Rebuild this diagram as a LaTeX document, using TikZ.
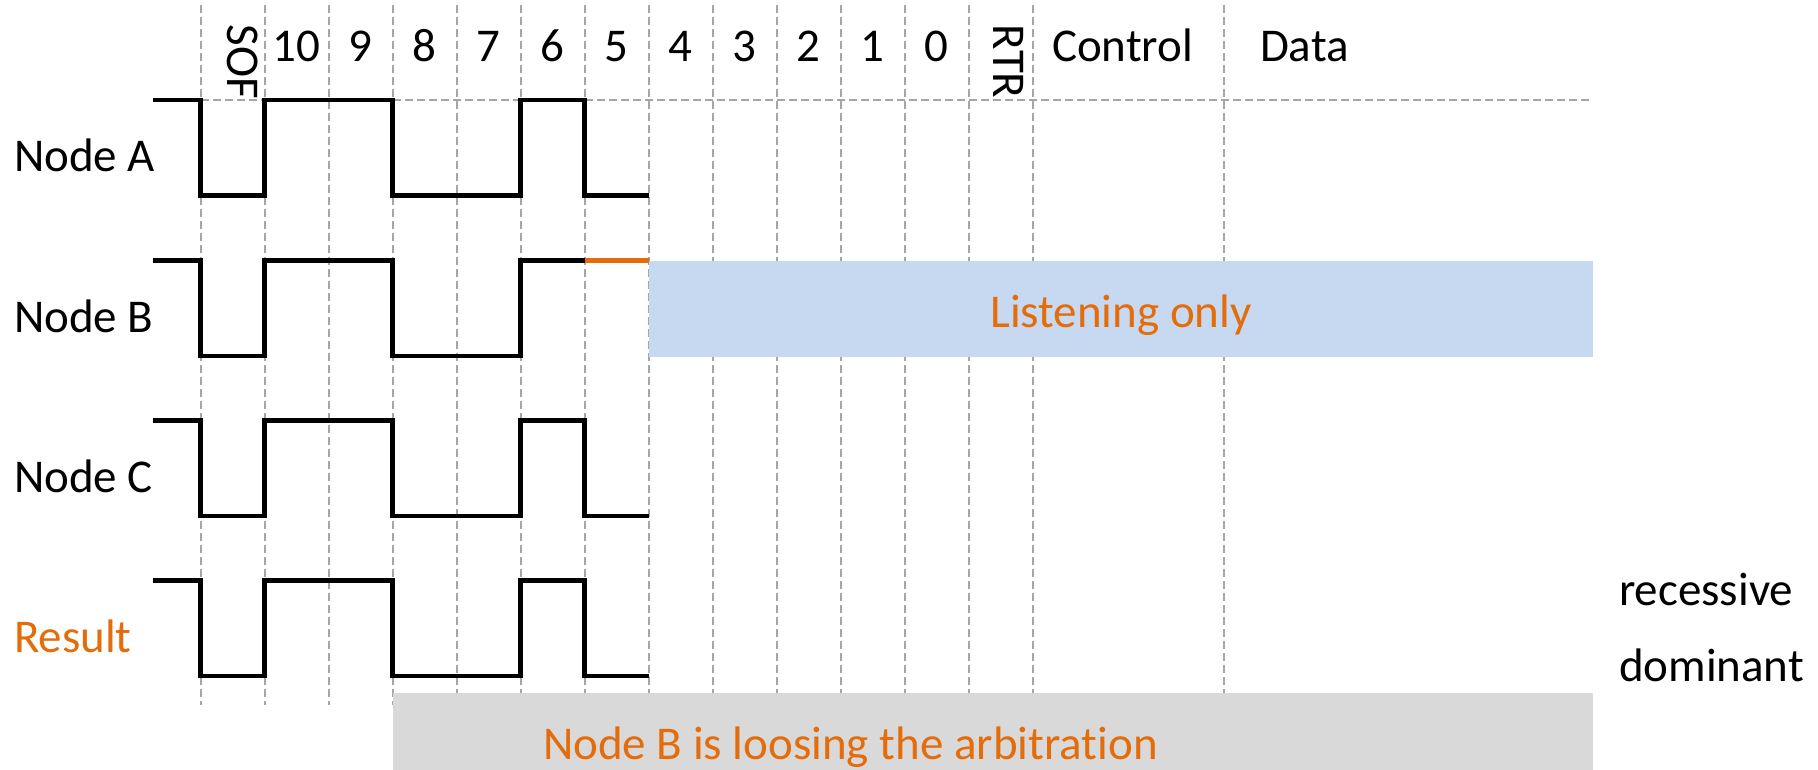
\documentclass[tikz,border=0pt]{standalone}
\usepackage{fontspec}
\setmainfont{Carlito}[Ligatures=NoCommon]
\definecolor{orng}{HTML}{E46C0A}
\definecolor{lblue}{HTML}{C6D9F0}
\definecolor{lgray}{HTML}{D9D9D9}
\definecolor{gridc}{HTML}{A6A6A6}
\begin{document}
\begin{tikzpicture}[x=1pt,y=-1pt,
  lbl/.style={font=\fontsize{47}{56}\selectfont, inner sep=0pt, outer sep=0pt},
  gridline/.style={draw=gridc, line width=2pt, dash pattern=on 8pt off 4pt},
  sig/.style={line width=4.5pt, draw=black, line join=miter},
  lost/.style={line width=4.5pt, draw=orng}]
\useasboundingbox (0,0) rectangle (1818,770);
% grid
\foreach \k in {0,...,13} {
  \draw[gridline] (200.5+64*\k,5) -- (200.5+64*\k,705);
}
\draw[gridline] (1223.5,5) -- (1223.5,705);
\draw[gridline] (200.5,100) -- (1591,100);
% boxes
\fill[lblue] (649,261) rectangle (1593,357);
\fill[lgray] (392.7,692.7) rectangle (1593,770);
% signals
\foreach \H/\nm in {100/A,420.5/C,580.5/R} {
  \draw[sig] (153,\H) -- (200.5,\H) -- (200.5,\H+95.5) -- (264.5,\H+95.5) -- (264.5,\H)
    -- (392.5,\H) -- (392.5,\H+95.5) -- (520.5,\H+95.5) -- (520.5,\H) -- (584.5,\H)
    -- (584.5,\H+95.5) -- (648.5,\H+95.5);
}
\draw[sig] (153,260.5) -- (200.5,260.5) -- (200.5,356) -- (264.5,356) -- (264.5,260.5)
    -- (392.5,260.5) -- (392.5,356) -- (520.5,356) -- (520.5,260.5) -- (584.5,260.5);
\draw[lost] (584.5,260.5) -- (648.5,260.5);
% top labels
\node[lbl, anchor=base west, rotate=-90] (sof) at (227,25) {SOF};
\node[lbl, anchor=base west, rotate=-90] (rtr) at (993,25) {RTR};
\foreach \t [count=\i] in {10,9,8,7,6,5,4,3,2,1,0} {
  \node[lbl, anchor=base] (b\t) at (232.5+64*\i,62) {\t};
}
\node[lbl, anchor=base west] (ctrl) at (1052,62) {Control};
\node[lbl, anchor=base west] (data) at (1260,62) {Data};
% row labels
\node[lbl, anchor=base west] (na) at (14,172) {Node A};
\node[lbl, anchor=base west] (nb) at (14,332) {Node B};
\node[lbl, anchor=base west] (nc) at (14,492) {Node C};
\node[lbl, anchor=base west, text=orng] (res) at (14,652) {Result};
\node[lbl, anchor=base west] (rec) at (1619,605) {recessive};
\node[lbl, anchor=base west] (dom) at (1619,681.7) {dominant};
\node[lbl, anchor=base, text=orng] (listen) at (1121,327) {Listening only};
\node[lbl, anchor=base west, text=orng] (loose) at (543,759) {Node B is loosing the arbitration};
\end{tikzpicture}
\end{document}
